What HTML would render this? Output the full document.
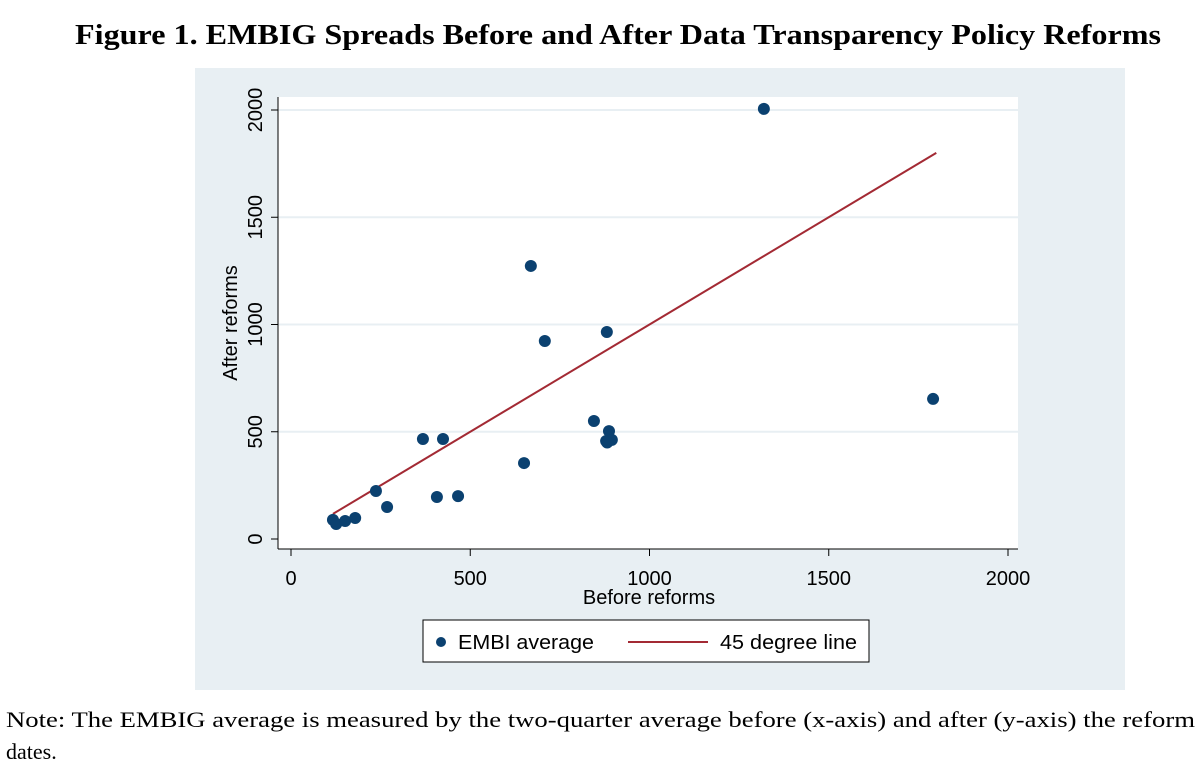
<!DOCTYPE html>
<html><head><meta charset="utf-8"><style>
body{margin:0;width:1204px;height:778px;background:#fff;overflow:hidden;font-family:"Liberation Sans",sans-serif}
svg{position:absolute;left:0;top:0}
</style></head><body>
<svg width="1204" height="778" id="chart">
<text x="75" y="44" font-family="Liberation Serif, serif" font-weight="bold" font-size="28" textLength="1086" lengthAdjust="spacingAndGlyphs">Figure 1. EMBIG Spreads Before and After Data Transparency Policy Reforms</text>
<rect x="195" y="68" width="930" height="622" fill="#e8eff3"/>
<rect x="278" y="97" width="740" height="452" fill="#fff"/>
<g id="grid"></g><g id="axes"></g><g id="marks"></g>
<g>
<rect x="423" y="620" width="446" height="42" fill="#fff" stroke="#000" stroke-width="1"/>
<circle cx="441" cy="642" r="5" fill="#0b4170"/>
<text x="458" y="649" font-size="20" textLength="136" lengthAdjust="spacingAndGlyphs">EMBI average</text>
<line x1="628" y1="642" x2="708" y2="642" stroke="#a32a34" stroke-width="2"/>
<text x="720" y="649" font-size="20" textLength="137" lengthAdjust="spacingAndGlyphs">45 degree line</text>
</g>
<g font-family="Liberation Serif, serif" font-size="22">
<text x="6" y="727" textLength="1189" lengthAdjust="spacingAndGlyphs">Note: The EMBIG average is measured by the two-quarter average before (x-axis) and after (y-axis) the reform</text>
<text x="6" y="759">dates.</text>
</g>
</svg>
<script>
const xVals=[117,126,151,179,237,268,368,407,424,466,650,669,708,845,881,887,879,895,882,1319,1791];
const yVals=[89,70,84,98,224,149,466,196,466,200,354,1273,923,550,965,503,457,462,450,2005,653];
const lineEnds=[117,1800];
const ticks=[0,500,1000,1500,2000];
const X=v=>291+v*0.3585, Y=v=>539-v*0.2145;
const ns="http://www.w3.org/2000/svg";
function mk(p,t,a){const e=document.createElementNS(ns,t);for(const k in a)e.setAttribute(k,a[k]);document.getElementById(p).appendChild(e);return e;}
ticks.forEach(t=>{
 if(t>0){const g=mk('grid','line',{x1:278,x2:1018,y1:Y(t),y2:Y(t),stroke:'#e8eff3','stroke-width':2});
 
 }
 mk('axes','line',{x1:X(t),x2:X(t),y1:549,y2:556,stroke:'#000'});
 const tx=mk('axes','text',{x:X(t),y:585,'font-size':20,'text-anchor':'middle'});tx.textContent=t;
 
 
 mk('axes','line',{x1:271,x2:278,y1:Y(t),y2:Y(t),stroke:'#000'});
 const ty=mk('axes','text',{x:0,y:0,'font-size':20,'text-anchor':'middle',transform:`translate(262,${Y(t)}) rotate(-90)`});ty.textContent=t;
 
 
});
mk('axes','line',{x1:278,x2:1018,y1:549,y2:549,stroke:'#000'});
mk('axes','line',{x1:278,x2:278,y1:97,y2:549,stroke:'#000'});
const xt=mk('axes','text',{x:649,y:604,'font-size':20,'text-anchor':'middle'});xt.textContent='Before reforms';


const yt=mk('axes','text',{x:0,y:0,'font-size':20,'text-anchor':'middle',transform:'translate(237,323) rotate(-90)'});yt.textContent='After reforms';


const ln=mk('marks','line',{x1:X(lineEnds[0]),y1:Y(lineEnds[0]),x2:X(lineEnds[1]),y2:Y(lineEnds[1]),stroke:'#a32a34','stroke-width':2});


xVals.forEach((v,i)=>{const c=mk('marks','circle',{cx:X(v),cy:Y(yVals[i]),r:6,fill:'#0b4170'});
 
 });
</script>
</body></html>
